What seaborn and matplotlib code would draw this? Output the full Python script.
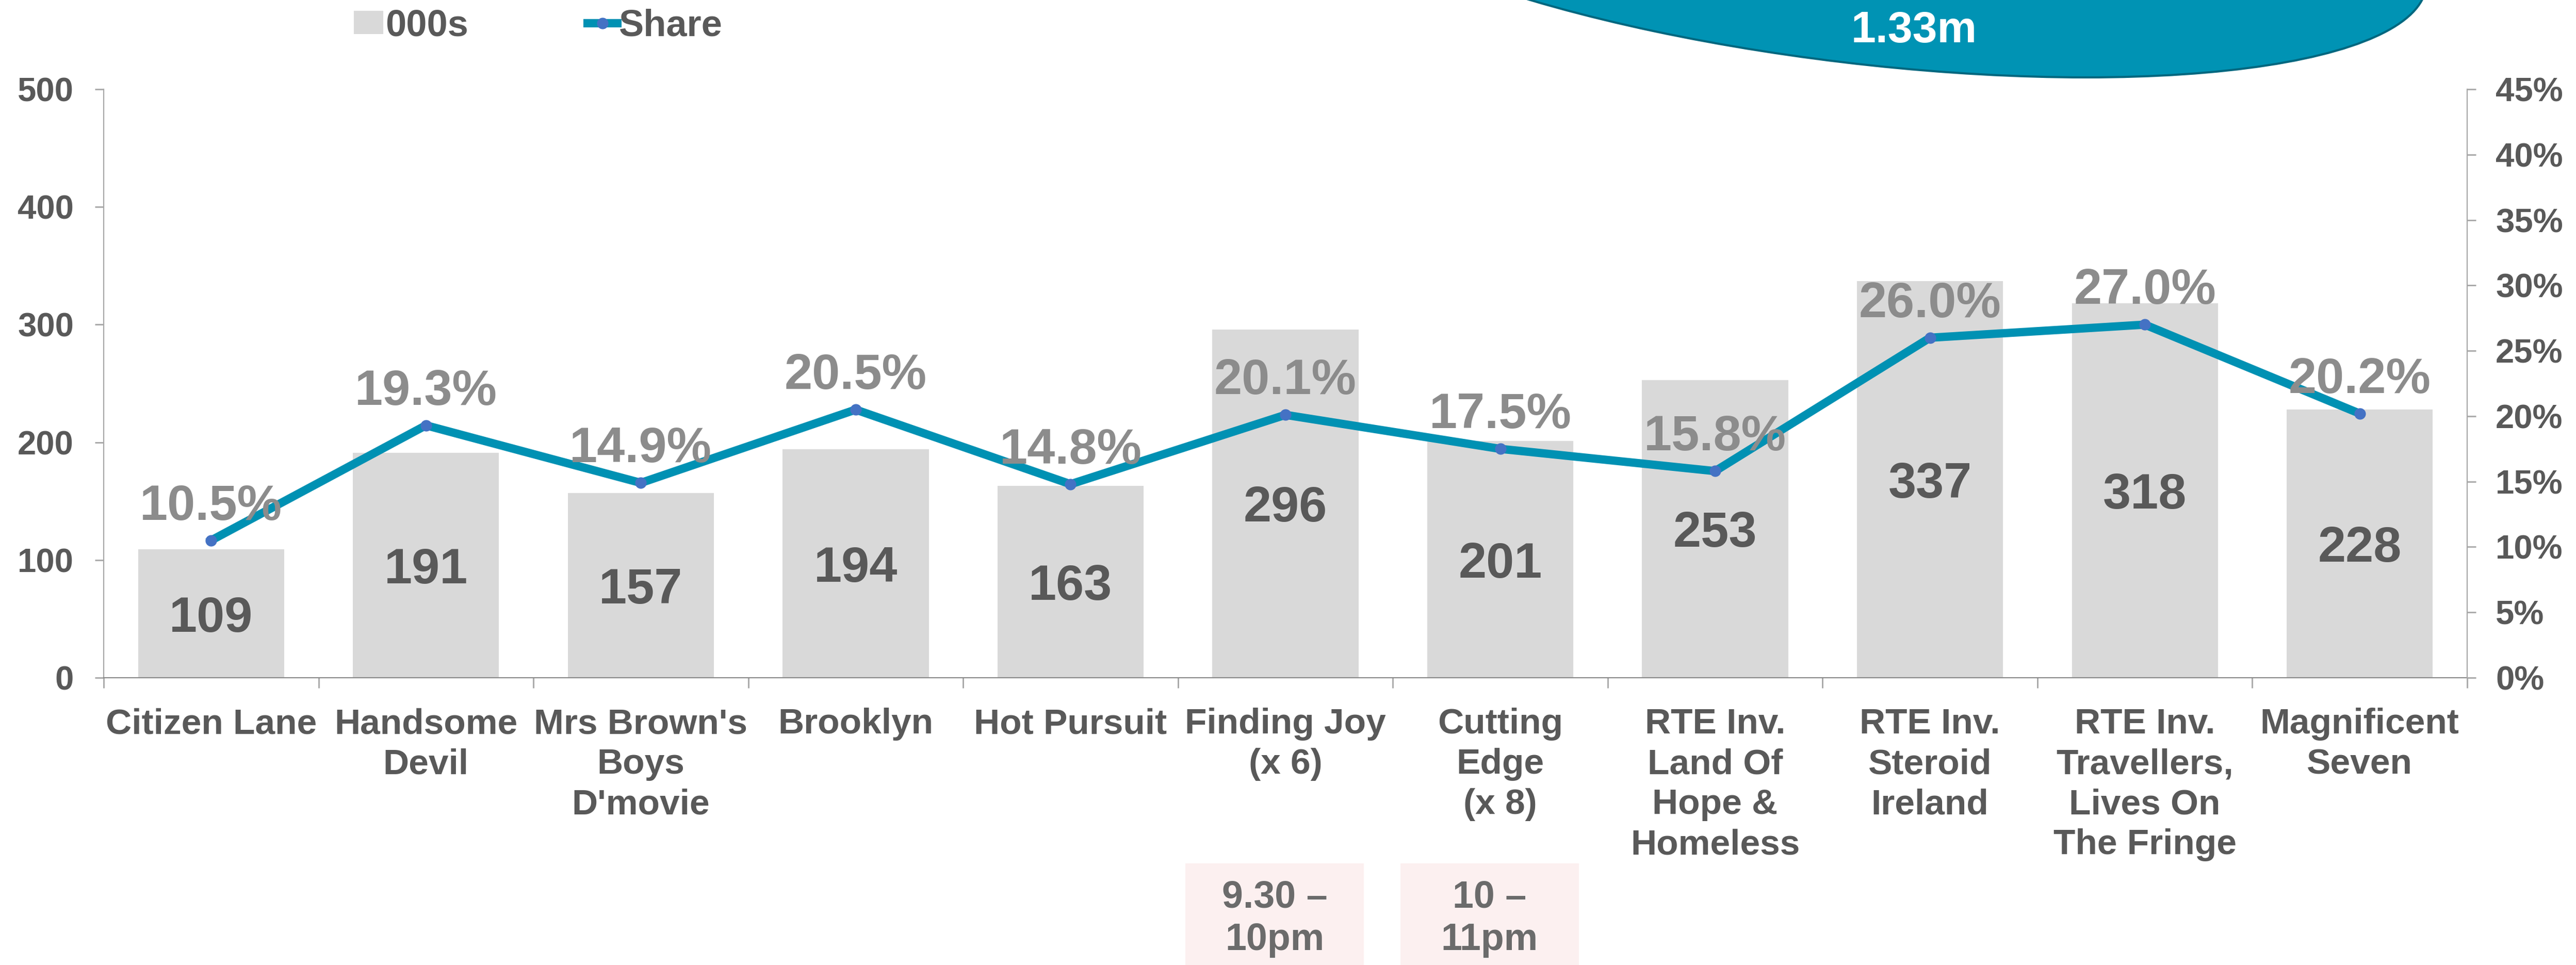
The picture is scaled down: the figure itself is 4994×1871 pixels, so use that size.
import numpy as np
import pandas as pd
import seaborn as sns
import matplotlib.pyplot as plt
from matplotlib.patches import Rectangle, Circle, Patch
from matplotlib.lines import Line2D
from matplotlib.ticker import FixedLocator, PercentFormatter
from matplotlib.transforms import Affine2D, blended_transform_factory

plt.rcParams['font.family'] = ['Liberation Sans', 'DejaVu Sans']
plt.rcParams['font.weight'] = 'bold'

# data
programmes = ["Citizen Lane", "Handsome\nDevil", "Mrs Brown's\nBoys\nD'movie", "Brooklyn",
              "Hot Pursuit", "Finding Joy\n(x 6)", "Cutting\nEdge\n(x 8)",
              "RTE Inv.\nLand Of\nHope &\nHomeless", "RTE Inv.\nSteroid\nIreland",
              "RTE Inv.\nTravellers,\nLives On\nThe Fringe", "Magnificent\nSeven"]
viewers = [109, 191, 157, 194, 163, 296, 201, 253, 337, 318, 228]
share = [10.5, 19.3, 14.9, 20.5, 14.8, 20.1, 17.5, 15.8, 26.0, 27.0, 20.2]
slot_idx = [5, 6]
slot_text = ["9.30 –\n10pm", "10 –\n11pm"]
reach_text = "1.33m"

GREY_BAR = '#d9d9d9'
TEAL = '#0091b3'
DOT = '#4472c4'
TXT = '#595959'

df = pd.DataFrame({'programme': programmes, 'viewers': viewers, 'share': share})

fig = plt.figure(figsize=(24.97, 9.355), dpi=200)
ax = fig.add_axes([0.04025, 0.2977, 0.9175, 0.6098])

sns.barplot(data=df, x='programme', y='viewers', ax=ax, color=GREY_BAR,
            saturation=1, width=0.68, errorbar=None)
ax2 = ax.twinx()
sns.pointplot(data=df, x='programme', y='share', ax=ax2, color=TEAL,
              markers='o', linewidth=5.8, markersize=8, errorbar=None)
for ln in ax2.lines:
    ln.set_markerfacecolor(DOT)
    ln.set_markeredgewidth(0)

ax.set_ylim(0, 500)
ax.set_yticks(range(0, 501, 100))
ax2.set_ylim(0, 45)
ax2.set_yticks(range(0, 46, 5))
ax2.yaxis.set_major_formatter(PercentFormatter(decimals=0))
ax.set_xlim(-0.5, len(programmes) - 0.5)
ax.set_xlabel('')
ax.set_ylabel('')
ax2.set_ylabel('')

ax.set_xticks(range(len(programmes)))
ax.set_xticklabels(programmes, fontsize=25, fontweight='bold', color=TXT, linespacing=1.28)
ax.xaxis.set_minor_locator(FixedLocator(np.arange(-0.5, len(programmes), 1)))
ax.tick_params(axis='x', which='major', length=0, pad=21)
ax.tick_params(axis='x', which='minor', length=7.2, width=1, color='#a6a6a6')
ax.tick_params(axis='y', left=True, length=6.1, width=1, color='#a6a6a6',
               labelsize=23.5, labelcolor=TXT, pad=14.8)
ax2.tick_params(axis='y', right=True, length=6.1, width=1, color='#a6a6a6',
                labelsize=23.5, labelcolor=TXT, pad=13.7)

for a in (ax, ax2):
    a.spines['top'].set_visible(False)
ax.spines['right'].set_visible(False)
ax2.spines['left'].set_visible(False)
ax2.spines['bottom'].set_visible(False)
ax.spines['left'].set_color('#a6a6a6')
ax.spines['bottom'].set_color('#898989')
ax2.spines['right'].set_color('#a6a6a6')

# value labels (baseline placed so digits are centred where the reference has them)
for i, v in enumerate(viewers):
    ax.annotate(str(v), (i, v / 2), xytext=(0, -12.6), textcoords='offset points',
                ha='center', va='baseline', fontsize=35, color=TXT, fontweight='bold')
for i, s in enumerate(share):
    ax2.annotate(f'{s:.1f}%', (i, s), xytext=(0, 14.4), textcoords='offset points',
                 ha='center', va='baseline', fontsize=35, color='#8c8c8c', fontweight='bold')

# legend
handles = [Patch(facecolor=GREY_BAR, edgecolor='none', label='000s'),
           Line2D([0], [0], color=TEAL, lw=5.8, marker='o', markersize=8,
                  markerfacecolor=DOT, markeredgewidth=0, label='Share')]
fig.legend(handles=handles, loc='center left', bbox_to_anchor=(0.1373, 1 - 50 / 1871),
           ncol=2, frameon=False, prop={'weight': 'bold', 'size': 26}, labelcolor=TXT,
           handlelength=0.8, handleheight=0.6, handletextpad=0.05, columnspacing=3.2,
           borderpad=0, borderaxespad=0)

# teal callout at the top, cut by the figure edge
W, H, k = 5.03, 1.535, -1.42
shape = Affine2D(np.array([[W, k * H, 18.04], [0, H, 10.14], [0, 0, 1]])) + fig.dpi_scale_trans
fig.add_artist(Circle((0, 0), 1, transform=shape, facecolor='#0093b4',
                      edgecolor='#00677f', linewidth=1.5))
fig.text(3711 / 4994, 1 - 60 / 1871, reach_text, ha='center', va='center',
         color='white', fontsize=31, fontweight='bold', zorder=5)

# time slot boxes under two of the programmes
tb = blended_transform_factory(ax.transData, fig.transFigure)
for idx, txt in zip(slot_idx, slot_text):
    fig.add_artist(Rectangle((idx - 0.05 - 0.415, 0), 0.83, 0.1053, transform=tb,
                             facecolor='#fcf0f0', edgecolor='none', zorder=1))
    fig.text(idx - 0.05, 0.048, txt, transform=tb, ha='center', va='center',
             fontsize=26.5, color='#6b6b6b', fontweight='bold', linespacing=1.25, zorder=5)

fig.savefig('out.png', dpi=200)
